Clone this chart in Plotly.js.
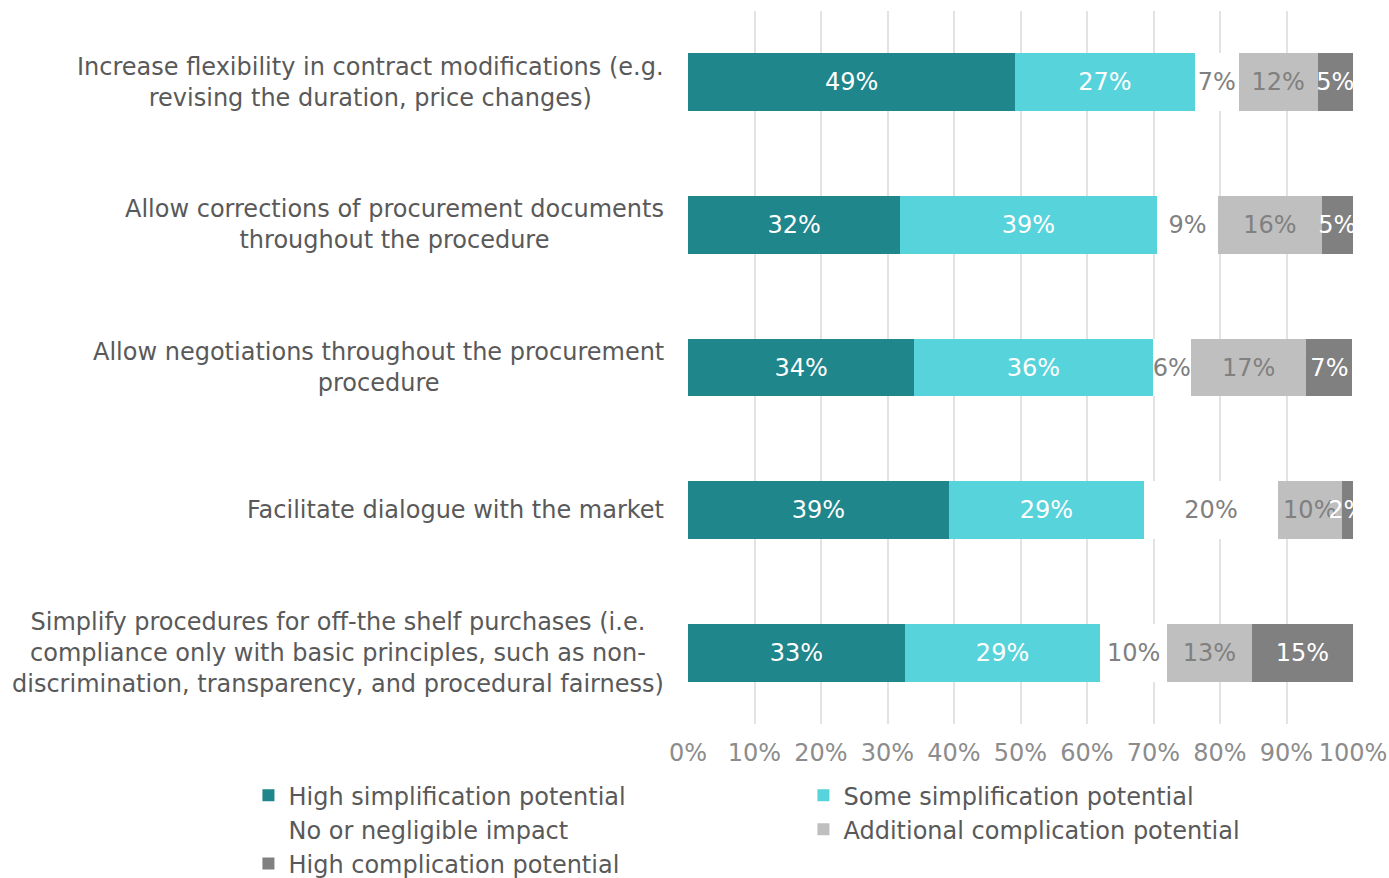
<!DOCTYPE html>
<html>
<head>
<meta charset="utf-8">
<script src="https://cdn.plot.ly/plotly-3.0.1.min.js"></script>
<style>html,body{margin:0;padding:0;background:#fff;}#chart{width:1389px;height:878px;}</style>
</head>
<body>
<div id="chart"></div>
<script>
const categories = [
  "Increase flexibility in contract modifications (e.g.<br>revising the duration, price changes)",
  "Allow corrections of procurement documents<br>throughout the procedure",
  "Allow negotiations throughout the procurement<br>procedure",
  "Facilitate dialogue with the market",
  "Simplify procedures for off-the shelf purchases (i.e.<br>compliance only with basic principles, such as non-<br>discrimination, transparency, and procedural fairness)"
];
const seriesNames = [
  "High simplification potential",
  "Some simplification potential",
  "No or negligible impact",
  "Additional complication potential",
  "High complication potential"
];
const highSimplification = [49.2, 31.9, 34.0, 39.2, 32.6];
const someSimplification = [27.0, 38.6, 35.9, 29.4, 29.4];
const noImpact = [6.6, 9.2, 5.7, 20.1, 10.0];
const additionalComplication = [11.9, 15.6, 17.4, 9.6, 12.8];
const highComplication = [5.3, 4.7, 6.9, 1.7, 15.2];
const xTickValues = [0, 10, 20, 30, 40, 50, 60, 70, 80, 90, 100];
const xTickLabels = ["0%", "10%", "20%", "30%", "40%", "50%", "60%", "70%", "80%", "90%", "100%"];

const seriesValues = [highSimplification, someSimplification, noImpact, additionalComplication, highComplication];
const colors = ["#1f868b", "#57d3db", "#ffffff", "#bfbfbf", "#808080"];
const textColors = ["#ffffff", "#ffffff", "#808080", "#808080", "#ffffff"];
const FONT = "DejaVu Sans, sans-serif";
const FS = 24;

const traces = seriesValues.map((vals, i) => ({
  type: "bar",
  orientation: "h",
  name: seriesNames[i],
  x: vals,
  y: categories,
  marker: {color: colors[i], line: {width: 0}},
  texttemplate: "%{x:.0f}%",
  textposition: "inside",
  insidetextanchor: "middle",
  textangle: 0,
  constraintext: "none",
  insidetextfont: {family: FONT, size: FS, color: textColors[i]},
  hoverinfo: "none"
}));

const annotations = categories.map(c => ({
  xref: "paper", yref: "y", x: 0, y: c,
  xanchor: "right", yanchor: "middle", xshift: -22,
  align: "center", showarrow: false, text: c,
  font: {family: FONT, size: FS, color: "#595959"}
}));

const layout = {
  width: 1389, height: 878,
  margin: {l: 688, r: 36, t: 11, b: 154, pad: 0, autoexpand: false},
  paper_bgcolor: "#ffffff", plot_bgcolor: "#ffffff",
  barmode: "stack",
  bargap: 0.594,
  showlegend: true,
  font: {family: FONT, size: FS, color: "#595959"},
  xaxis: {
    range: [0, 100], tickvals: xTickValues, ticktext: xTickLabels,
    showgrid: true, gridcolor: "#e3e3e3", gridwidth: 2,
    zeroline: false, showline: false, ticks: "",
    ticklabelstandoff: 12,
    tickfont: {family: FONT, size: FS, color: "#8c8c8c"},
    automargin: false, fixedrange: true
  },
  yaxis: {
    autorange: "reversed", showticklabels: false, showgrid: false,
    zeroline: false, showline: false, ticks: "", automargin: false, fixedrange: true
  },
  legend: {
    orientation: "h", xanchor: "left", yanchor: "top",
    x: -0.661, y: -0.0688,
    entrywidth: 510,
    traceorder: "normal",
    font: {family: FONT, size: FS, color: "#595959"},
    bgcolor: "rgba(0,0,0,0)"
  },
  annotations: annotations
};

Plotly.newPlot("chart", traces, layout, {displayModeBar: false, staticPlot: true});
</script>
</body>
</html>
